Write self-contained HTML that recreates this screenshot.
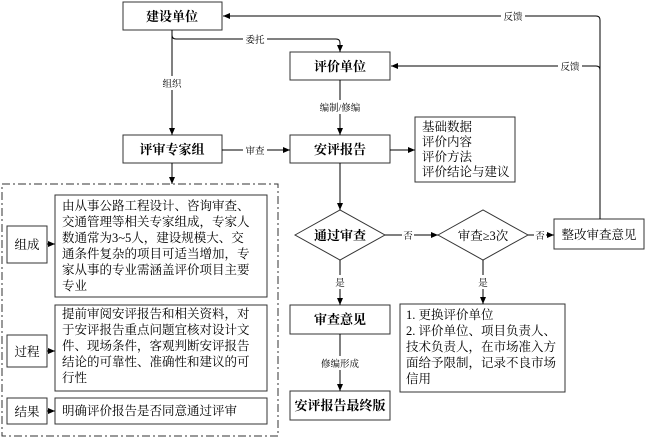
<!DOCTYPE html>
<html><head><meta charset="utf-8"><style>
body{margin:0;background:#fff;}
svg{display:block;}
text{font-family:"Liberation Serif","Noto Serif CJK SC",serif;fill:#000;}
.b{font-size:13px;font-weight:bold;}
.t{font-size:12.5px;}
.s{font-size:9.5px;}
</style></head><body>
<svg width="646" height="442" viewBox="0 0 646 442" xmlns="http://www.w3.org/2000/svg">
<defs><marker id="a" markerWidth="8" markerHeight="8" refX="7" refY="4" orient="auto" markerUnits="userSpaceOnUse"><path d="M0,1 L7,4 L0,7 z" fill="#000"/></marker></defs>
<g fill="none" stroke="#333" stroke-width="1">
<rect x="123" y="2" width="99" height="28"/>
<rect x="290" y="52" width="100" height="28"/>
<rect x="123" y="135" width="99" height="28"/>
<rect x="290" y="135" width="100" height="28"/>
<rect x="415" y="117" width="100" height="65"/>
<polygon points="295,235 340,210 385,235 340,260"/>
<polygon points="438,235 483,210 528,235 483,260"/>
<rect x="554" y="219" width="90" height="30"/>
<rect x="290" y="305" width="100" height="29"/>
<rect x="290" y="391" width="100" height="29"/>
<rect x="400" y="304" width="165" height="88"/>
<rect x="2" y="184" width="276" height="252" stroke-dasharray="8,3,2,3"/>
<rect x="7" y="226" width="40" height="37"/>
<rect x="55" y="195" width="212" height="102"/>
<rect x="7" y="335" width="40" height="32"/>
<rect x="55" y="305" width="212" height="86"/>
<rect x="7" y="398" width="40" height="26"/>
<rect x="55" y="398" width="212" height="26"/>
</g>
<g fill="none" stroke="#000" stroke-width="1">
<path d="M600,219 V20 Q600,16 596,16 H223" marker-end="url(#a)"/>
<path d="M600,70 Q600,66 596,66 H391" marker-end="url(#a)"/>
<path d="M172,30 V35 Q172,39 176,39 H336 Q340,39 340,43 V52" marker-end="url(#a)"/>
<path d="M172,30 V135" marker-end="url(#a)"/>
<path d="M340,80 V135" marker-end="url(#a)"/>
<path d="M222,150 H290" marker-end="url(#a)"/>
<path d="M390,150 H415" marker-end="url(#a)"/>
<path d="M340,163 V210" marker-end="url(#a)"/>
<path d="M385,235 H438" marker-end="url(#a)"/>
<path d="M528,235 H554" marker-end="url(#a)"/>
<path d="M340,260 V305" marker-end="url(#a)"/>
<path d="M483,260 V304" marker-end="url(#a)"/>
<path d="M340,334 V391" marker-end="url(#a)"/>
<path d="M172,163 V184" marker-end="url(#a)"/>
<path d="M47,244 H55" marker-end="url(#a)"/>
<path d="M47,351 H55" marker-end="url(#a)"/>
<path d="M47,411 H55" marker-end="url(#a)"/>
</g>
<g fill="#fff">
<rect x="501" y="9" width="24" height="14"/>
<rect x="558" y="59" width="24" height="14"/>
<rect x="243" y="32" width="24" height="14"/>
<rect x="160" y="76" width="24" height="14"/>
<rect x="243" y="143" width="24" height="14"/>
<rect x="315" y="100" width="50" height="14"/>
<rect x="402" y="228" width="12" height="14"/>
<rect x="534" y="228" width="12" height="14"/>
<rect x="334" y="275" width="12" height="14"/>
<rect x="477" y="275" width="12" height="14"/>
<rect x="318" y="356" width="44" height="14"/>
</g>
<g class="s" text-anchor="middle">
<text x="513" y="20">反馈</text>
<text x="570" y="70">反馈</text>
<text x="255" y="43">委托</text>
<text x="172" y="87">组织</text>
<text x="255" y="154">审查</text>
<text x="340" y="111">编制/修编</text>
<text x="408" y="239">否</text>
<text x="540" y="239">否</text>
<text x="340" y="286">是</text>
<text x="483" y="286">是</text>
<text x="340" y="367">修编形成</text>
</g>
<g class="b" text-anchor="middle">
<text x="172" y="21">建设单位</text>
<text x="340" y="71">评价单位</text>
<text x="172" y="154">评审专家组</text>
<text x="340" y="154">安评报告</text>
<text x="340" y="240">通过审查</text>
<text x="340" y="324">审查意见</text>
<text x="340" y="410">安评报告最终版</text>
</g>
<g class="t" text-anchor="middle">
<text x="483" y="240">审查≥3次</text>
<text x="599" y="239">整改审查意见</text>
<text x="27" y="249">组成</text>
<text x="27" y="356">过程</text>
<text x="27" y="416">结果</text>
</g>
<g class="t">
<text x="422" y="131">基础数据</text>
<text x="422" y="146">评价内容</text>
<text x="422" y="161">评价方法</text>
<text x="422" y="176">评价结论与建议</text>
<text x="62" y="210">由从事公路工程设计、咨询审查、</text>
<text x="62" y="226">交通管理等相关专家组成，专家人</text>
<text x="62" y="242">数通常为3~5人，建设规模大、交</text>
<text x="62" y="258">通条件复杂的项目可适当增加，专</text>
<text x="62" y="274">家从事的专业需涵盖评价项目主要</text>
<text x="62" y="290">专业</text>
<text x="62" y="318">提前审阅安评报告和相关资料，对</text>
<text x="62" y="334">于安评报告重点问题宜核对设计文</text>
<text x="62" y="350">件、现场条件，客观判断安评报告</text>
<text x="62" y="366">结论的可靠性、准确性和建议的可</text>
<text x="62" y="382">行性</text>
<text x="62" y="415">明确评价报告是否同意通过评审</text>
<text x="406" y="319">1. 更换评价单位</text>
<text x="406" y="335">2. 评价单位、项目负责人、</text>
<text x="406" y="351">技术负责人，在市场准入方</text>
<text x="406" y="367">面给予限制，记录不良市场</text>
<text x="406" y="383">信用</text>
</g>
</svg>
</body></html>
